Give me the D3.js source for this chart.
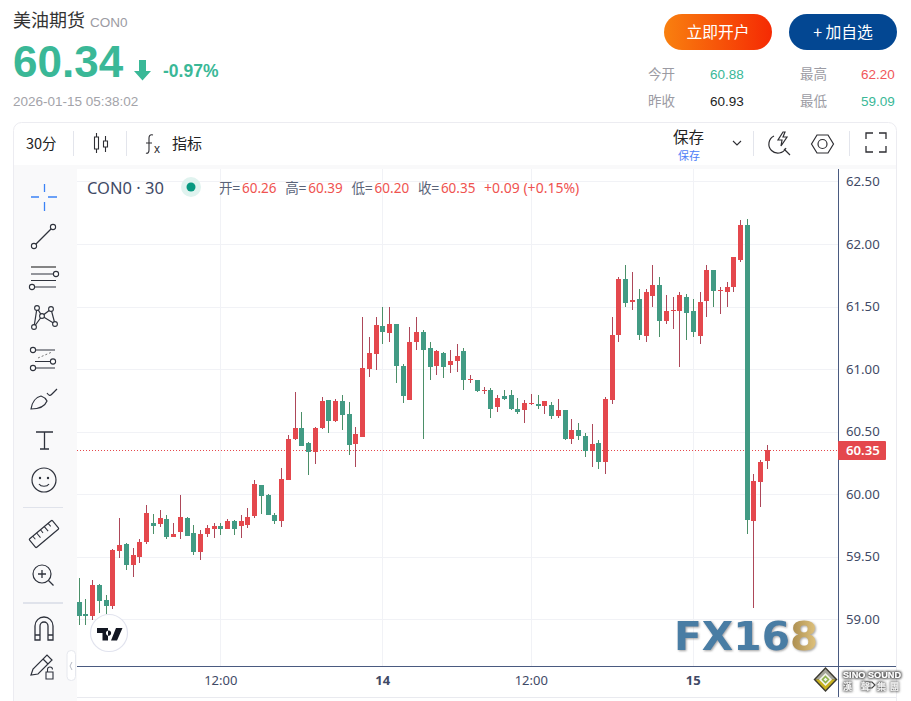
<!DOCTYPE html>
<html><head><meta charset="utf-8">
<script src="https://cdn.jsdelivr.net/npm/d3@7/dist/d3.min.js"></script>
<style>html,body{margin:0;padding:0;background:#fff;overflow:hidden}svg{display:block}text{font-family:"Noto Sans","Noto Sans CJK SC",sans-serif}</style>
</head><body><svg id="c" width="911" height="701"></svg>
<script>
// open, high, low, close of each 30-minute candle
const opens=[59.14,59.04,59.02,59.27,59.15,59.10,59.54,59.60,59.43,59.50,59.62,59.77,59.76,59.80,59.66,59.70,59.81,59.69,59.54,59.68,59.72,59.74,59.72,59.78,59.74,59.76,59.82,60.07,59.99,59.83,59.78,60.11,60.44,60.53,60.41,60.34,60.52,60.75,60.58,60.74,60.64,60.40,60.46,61.00,61.12,61.34,61.29,61.36,61.02,60.76,61.22,61.30,61.17,61.02,61.13,61.03,61.06,61.14,60.91,60.91,60.82,60.83,60.70,60.78,60.79,60.68,60.67,60.72,60.72,60.70,60.71,60.62,60.67,60.44,60.51,60.46,60.34,60.41,60.26,60.75,61.27,61.72,61.53,61.56,61.27,61.58,61.67,61.38,61.46,61.46,61.58,61.46,61.27,61.54,61.79,61.62,61.62,61.66,61.87,62.15,59.78,60.10,60.26];
const highs=[59.33,59.16,59.31,59.28,59.19,59.56,59.81,59.61,59.57,59.64,59.91,59.84,59.87,59.83,59.77,59.99,59.82,59.75,59.71,59.75,59.77,59.77,59.80,59.79,59.83,59.89,60.11,60.07,60.00,59.85,60.21,60.47,60.82,60.66,60.42,60.54,60.78,60.75,60.76,60.79,60.74,60.54,61.42,61.26,61.42,61.50,61.50,61.36,61.04,61.34,61.42,61.31,61.22,61.15,61.14,61.15,61.20,61.17,60.95,60.91,60.86,60.85,60.79,60.83,60.83,60.77,60.75,60.80,60.79,60.74,60.74,60.76,60.67,60.60,60.57,60.49,60.56,60.43,60.78,61.42,61.74,61.83,61.78,61.64,61.64,61.83,61.74,61.59,61.58,61.62,61.60,61.56,61.62,61.83,61.79,61.66,61.70,61.90,62.19,62.20,60.16,60.27,60.39];
const lows=[58.95,58.95,58.99,59.05,59.04,59.08,59.49,59.39,59.34,59.45,59.60,59.68,59.74,59.64,59.66,59.64,59.67,59.51,59.47,59.66,59.65,59.67,59.72,59.67,59.65,59.73,59.81,59.84,59.83,59.76,59.74,60.11,60.43,60.39,60.15,60.24,60.52,60.49,60.58,60.51,60.31,60.22,60.46,60.94,60.99,61.20,61.22,60.89,60.73,60.76,61.15,60.44,60.91,60.95,60.93,60.97,60.98,60.83,60.89,60.82,60.80,60.61,60.66,60.75,60.67,60.64,60.57,60.71,60.68,60.64,60.60,60.61,60.43,60.40,60.43,60.30,60.22,60.20,60.16,60.72,61.22,61.50,61.47,61.23,61.22,61.50,61.26,61.36,61.32,61.02,61.23,61.26,61.20,61.42,61.50,61.44,61.50,61.62,61.86,59.68,59.09,59.90,60.20];
const closes=[59.03,59.02,59.27,59.14,59.10,59.55,59.59,59.43,59.51,59.62,59.85,59.75,59.81,59.66,59.68,59.82,59.67,59.54,59.68,59.73,59.74,59.72,59.78,59.72,59.78,59.82,60.08,59.98,59.83,59.78,60.12,60.44,60.53,60.39,60.34,60.53,60.74,60.58,60.74,60.63,60.39,60.48,61.01,61.13,61.35,61.29,61.36,61.02,60.78,61.22,61.30,61.16,61.02,61.14,61.02,61.06,61.10,60.91,60.92,60.82,60.83,60.68,60.77,60.76,60.68,60.66,60.73,60.73,60.70,60.74,60.62,60.67,60.44,60.51,60.46,60.34,60.40,60.26,60.76,61.27,61.72,61.53,61.55,61.27,61.62,61.67,61.38,61.46,61.47,61.59,61.45,61.29,61.54,61.79,61.62,61.63,61.66,61.90,62.15,59.79,60.10,60.26,60.35];
const priceTicks=[59,59.5,60,60.5,61,61.5,62,62.5];
const timeTickIndex=[21,45,67,91];
const timeTickLabels=["12:00","14","12:00","15"];
const lastPrice=60.35;
const legendParts=[["开=","l"],["60.26","v"],["高=","l"],["60.39","v"],["低=","l"],["60.20","v"],["收=","l"],["60.35","v"]];

const svg=d3.select("#c");
const defs=svg.append("defs");
const g1=defs.append("linearGradient").attr("id","btn");
g1.append("stop").attr("offset","0").attr("stop-color","#f9800f");
g1.append("stop").attr("offset","1").attr("stop-color","#f52a03");
const g2=defs.append("linearGradient").attr("id","gold").attr("x1",0).attr("x2",1).attr("y1",0).attr("y2",0);
g2.append("stop").attr("offset","0").attr("stop-color","#a88a4c");
g2.append("stop").attr("offset","1").attr("stop-color","#e3c680");
defs.append("filter").attr("id","sh").attr("x","-10%").attr("y","-20%").attr("width","120%").attr("height","150%")
  .append("feDropShadow").attr("dx",1).attr("dy",1).attr("stdDeviation",0.8).attr("flood-color","#777").attr("flood-opacity",0.7);
const hf=defs.append("filter").attr("id","halo").attr("x","-10%").attr("y","-30%").attr("width","120%").attr("height","160%");
hf.append("feMorphology").attr("in","SourceAlpha").attr("operator","dilate").attr("radius",0.7).attr("result","d");
hf.append("feGaussianBlur").attr("in","d").attr("stdDeviation",0.9).attr("result","b");
hf.append("feFlood").attr("flood-color","#555").attr("result","f");
hf.append("feComposite").attr("in","f").attr("in2","b").attr("operator","in").attr("result","s");
const hm=hf.append("feMerge");hm.append("feMergeNode").attr("in","s");hm.append("feMergeNode").attr("in","SourceGraphic");

function T(x,y,s,size,fill,opt={}){const t=svg.append("text").attr("x",x).attr("y",y).attr("font-size",size).attr("fill",fill).text(s);
 if(opt.anchor)t.attr("text-anchor",opt.anchor);if(opt.weight)t.attr("font-weight",opt.weight);if(opt.family)t.style("font-family",opt.family);if(opt.len)t.attr("textLength",opt.len).attr("lengthAdjust","spacingAndGlyphs");return t;}
const CJK='"Noto Sans CJK SC",sans-serif', LIB='"Liberation Sans",sans-serif';
const TEAL="#3ab897",RED="#f0494c",GREY="#9b9ba3";

// header
T(13,27,"美油期货",18,"#333",{family:CJK});
T(90,27,"CON0",13.5,GREY,{family:LIB});
T(13,77,"60.34",44,TEAL,{weight:700,family:LIB});
svg.append("path").attr("d","M139 60h7v11h5l-8.500 9.500L134 71h5z").attr("fill",TEAL);
T(163,77,"-0.97%",17.5,TEAL,{weight:700,family:LIB});
T(13,106,"2026-01-15 05:38:02",13.5,"#a3a3a9",{family:LIB});
svg.append("rect").attr("x",664).attr("y",14).attr("width",108).attr("height",36).attr("rx",18).attr("fill","url(#btn)");
svg.append("rect").attr("x",789).attr("y",14).attr("width",108).attr("height",36).attr("rx",18).attr("fill","#034792");
T(718,37.500,"立即开户",15.800,"#fff",{anchor:"middle",family:CJK});
T(843,37.500,"+ 加自选",15.800,"#fff",{anchor:"middle",family:CJK});
[["今开",648,79],["最高",800,79],["昨收",648,106],["最低",800,106]].forEach(d=>T(d[1],d[2],d[0],13.5,GREY,{family:CJK}));
[["60.88",710,79,TEAL],["62.20",861,79,"#f0575a"],["60.93",710,106,"#222"],["59.09",861,106,TEAL]].forEach(d=>T(d[1],d[2],d[0],13.5,d[3],{family:LIB}));

// card (runs past the bottom of the window)
svg.append("rect").attr("x",13.5).attr("y",122.5).attr("width",883).attr("height",600).attr("rx",8).attr("fill","#fff").attr("stroke","#ececf1");
svg.append("rect").attr("x",14).attr("y",165).attr("width",882).attr("height",4).attr("fill","#f9f9fa");
svg.append("path").attr("d","M14 165H77V701H14z").attr("fill","#f9f9fa");
svg.append("line").attr("x1",77).attr("x2",896).attr("y1",697.5).attr("y2",697.5).attr("stroke","#e9eaef");

// toolbar
const ic=(d,w=1.1,col="#2e2e33")=>svg.append("path").attr("d",d).attr("fill","none").attr("stroke",col).attr("stroke-width",w);
const sep=(x,y1,y2)=>svg.append("line").attr("x1",x+.5).attr("x2",x+.5).attr("y1",y1).attr("y2",y2).attr("stroke","#e3e5ec");
T(26,149,"30分",14.5,"#222",{family:CJK});
sep(73,131,156);sep(126,131,156);sep(753,131,156);sep(849,131,156);
ic("M96.500 133v4M96.500 149v4M94.500 137h4v12h-4zM105.500 136v5M105.500 147v5M103.500 141h4v6h-4z");
ic("M153 135c-3-1-4 1-4 3v12c0 2-1 4-3 3M146 143h6");
T(154,152.500,"x",12,"#2e2e33",{family:LIB});
T(172,149,"指标",15,"#222",{family:CJK});
T(673,143,"保存",15.5,"#222",{family:CJK});
T(678,160,"保存",11,"#4e7ef7",{family:CJK});
ic("M733 141l4 4 4-4",1.1);
ic("M774 136a9 9 0 1 0 12 12M784 149l6 6",1.2);
ic("M783 132l-5 8h4l-1 6 6-9h-4l2-5z",1.2);
ic("M811.500 144l5.500-9h11l5.500 9-5.500 9h-11z",1.2);
svg.append("circle").attr("cx",822.5).attr("cy",144).attr("r",4.5).attr("fill","none").attr("stroke","#2e2e33").attr("stroke-width",1.2);
ic("M866 139v-6h7M879 133h7v6M886 146v6h-7M873 152h-7v-6",1.3);

// chart
const pane={l:77,r:838,t:169,b:667};
const y=d3.scaleLinear().domain([59,62]).range([619,244]);
const x=d3.scaleLinear().domain([0,102]).range([78.5,767]);
const gridG=svg.append("g").attr("stroke","#f1f2f6").attr("shape-rendering","crispEdges");
gridG.selectAll(".h").data(priceTicks).join("line").attr("x1",pane.l).attr("x2",pane.r).attr("y1",d=>Math.round(y(d))+.5).attr("y2",d=>Math.round(y(d))+.5);
gridG.selectAll(".v").data(timeTickIndex).join("line").attr("x1",d=>Math.round(x(d))+.5).attr("x2",d=>Math.round(x(d))+.5).attr("y1",pane.t).attr("y2",pane.b);

// FX168 watermark
const fx=svg.append("g").attr("filter","url(#sh)");
fx.append("text").attr("x",674).attr("y",649.500).attr("font-size",38.500).attr("font-weight",700).attr("fill","#4a7da4").attr("textLength",116).attr("lengthAdjust","spacingAndGlyphs").style("font-family",'"DejaVu Sans",sans-serif').text("FX16");
fx.append("text").attr("x",790).attr("y",649.500).attr("font-size",38.500).attr("font-weight",700).attr("fill","url(#gold)").attr("textLength",28).attr("lengthAdjust","spacingAndGlyphs").style("font-family",'"DejaVu Sans",sans-serif').text("8");

// price line
svg.append("line").attr("x1",pane.l).attr("x2",pane.r).attr("y1",Math.round(y(lastPrice))+.5).attr("y2",Math.round(y(lastPrice))+.5).attr("stroke","#e5484d").attr("stroke-dasharray","1 2");

// candles
const idx=d3.range(opens.length);
const up=i=>closes[i]>=opens[i];
const cG=svg.append("g").attr("shape-rendering","crispEdges");
cG.selectAll(".w").data(idx).join("line").attr("class","w")
 .attr("x1",i=>Math.round(x(i))+.5).attr("x2",i=>Math.round(x(i))+.5)
 .attr("y1",i=>y(highs[i])).attr("y2",i=>y(lows[i])).attr("stroke",i=>up(i)?"#ad4759":"#4b8f68");
cG.selectAll(".b").data(idx).join("rect").attr("class","b")
 .attr("x",i=>Math.round(x(i))-2).attr("width",5)
 .attr("y",i=>Math.round(y(Math.max(opens[i],closes[i]))))
 .attr("height",i=>Math.max(1,Math.round(Math.abs(y(opens[i])-y(closes[i])))))
 .attr("fill",i=>up(i)?"#e4484d":"#429b84");

// axes
svg.append("g").attr("transform",`translate(${pane.r},0)`).call(d3.axisRight(y).tickValues(priceTicks).tickFormat(d3.format(".2f")).tickSize(0).tickPadding(8))
 .call(g=>g.select(".domain").remove()).selectAll("text").attr("font-size",13.2).attr("fill","#3f4a66").style("font-family","Noto Sans");
svg.append("g").attr("transform",`translate(0,${pane.b})`).call(d3.axisBottom(x).tickValues(timeTickIndex).tickFormat(d=>timeTickLabels[timeTickIndex.indexOf(d)]).tickSize(0).tickPadding(9))
 .call(g=>g.select(".domain").remove()).selectAll("text").attr("font-size",13).attr("fill","#3f4a66").attr("font-weight",(d,i)=>timeTickLabels[i].length<3?700:400).style("font-family","Noto Sans");
svg.append("line").attr("x1",pane.l).attr("x2",896).attr("y1",666.5).attr("y2",666.5).attr("stroke","#4a5a80");
svg.append("line").attr("x1",838.5).attr("x2",838.5).attr("y1",169).attr("y2",697).attr("stroke","#4a5a80");
svg.append("rect").attr("x",838).attr("y",441).attr("width",48).attr("height",19).attr("rx",1).attr("fill","#e4484d");
T(846,455,d3.format(".2f")(lastPrice),13.2,"#fff",{weight:600});

// legend
T(87,193.500,"CON0 · 30",16.5,"#3f4a66");
svg.append("circle").attr("cx",191).attr("cy",187).attr("r",10).attr("fill","#e0f3ef");
svg.append("circle").attr("cx",191).attr("cy",187).attr("r",4.5).attr("fill","#089981");
let lx=219;
legendParts.forEach(p=>{
 T(lx,193,p[0],13.5,p[1]=="l"?"#5a6378":"#ef5350",{family:p[1]=="l"?CJK:"Noto Sans"});
 lx+=p[1]=="l"?23:43.3;
});
T(484,193,"+0.09 (+0.15%)",14,"#ef5350");

// left tools
const B="#2e323c";
const dot=(cx,cy,r=2.6)=>svg.append("circle").attr("cx",cx).attr("cy",cy).attr("r",r).attr("fill","#fff").attr("stroke",B).attr("stroke-width",1.1);
ic("M44.500 184v8M44.500 202v9M31 197h8M48 197h9",1.3,"#3b82f6");
ic("M34 246L53 227",1.2,B);dot(34,246);dot(53,227);
ic("M31 267h25",1.6,"#666");ic("M31 274h24M31 280.500h25M34 287h22",1.2,B);dot(56,274);dot(32,287);
ic("M34 327L37 308L42 316L51 309L55 324L42 316L34 327M37 308L42 316",1.2,B);
[[34,327],[37,308],[42,316],[51,309],[55,324]].forEach(p=>dot(p[0],p[1],2.4));
ic("M35 350h20M35 361.500h17M35 368h20",1.2,B);ic("M38 358l14-6",1,"#777").attr("stroke-dasharray","2 2");
dot(33,350);dot(53,361.5);dot(33,368);
ic("M31 409c1-7 5-12 10-13 3 1 5 3 6 5-2 5-6 8-16 8z",1.2,B);ic("M47 393c2 3 3 3 5 1l5-5",1.2,B);
ic("M36 432h17M44.500 432v17M40 449h9",1.3,B);
svg.append("circle").attr("cx",44).attr("cy",480).attr("r",12).attr("fill","none").attr("stroke",B).attr("stroke-width",1.2);
svg.append("circle").attr("cx",40).attr("cy",478).attr("r",1.2).attr("fill",B);svg.append("circle").attr("cx",48).attr("cy",478).attr("r",1.2).attr("fill",B);
ic("M39 484c2 3 8 3 10 0",1.2,B);
svg.append("line").attr("x1",23).attr("x2",63).attr("y1",507.5).attr("y2",507.5).attr("stroke","#e0e3eb");
svg.append("g").attr("transform","translate(44,534) rotate(-40)").call(g=>{g.append("rect").attr("x",-15).attr("y",-5.500).attr("width",30).attr("height",11).attr("rx",1).attr("fill","none").attr("stroke",B).attr("stroke-width",1.2);
 g.append("path").attr("d","M-10-5.500v4M-5-5.500v6M0-5.500v4M5-5.500v6M10-5.500v4").attr("fill","none").attr("stroke",B);});
svg.append("circle").attr("cx",42).attr("cy",574).attr("r",9).attr("fill","none").attr("stroke",B).attr("stroke-width",1.2);
ic("M38 574h8M42 570v8M48.500 580.500l5 5",1.3,B);
svg.append("rect").attr("x",23).attr("y",602).attr("width",40).attr("height",2).attr("fill","#e0e3eb");
ic("M35 640v-14a9 9 0 0 1 18 0v14h-5v-14a4 4 0 0 0-8 0v14zM35 635h5M48 635h5",1.3,B);
ic("M31 675l2-6 14-14 5 5-14 14zM43 659l5 5",1.2,B);
ic("M46 672h7v7h-7zM47.500 672v-2.500a2.500 2.500 0 0 1 5 0",1.1,B);
svg.append("rect").attr("x",67).attr("y",650.5).attr("width",8.500).attr("height",30).attr("rx",4).attr("fill","#fff").attr("stroke","#e6e8ee");
ic("M72 662l-2 4 2 4",1,"#b7bbc6");

// TradingView badge
svg.append("circle").attr("cx",109).attr("cy",633).attr("r",18.500).attr("fill","#fff").attr("stroke","#e1e3ee").attr("stroke-width",1.2);
svg.append("path").attr("d","M97 628h11v12.500h-5.500v-7.500H97zM108.500 630.500a2.600 2.600 0 1 0 .1 0zM116 628h6.500l-5.500 12.500h-6z").attr("fill","#131722");

// sino sound logo
svg.append("path").attr("d","M825.500 667l12 12.500-12 12.500-12-12.500z").attr("fill","#3c3a30");
svg.append("path").attr("d","M825.500 669l10 10.500h-20z").attr("fill","#a5a59a");
svg.append("path").attr("d","M825.500 690l10-10.500h-20z").attr("fill","#c9b21e");
svg.append("path").attr("d","M825.500 673l6.500 6.500-6.500 6.500-6.500-6.500z").attr("fill","#f4f4ea");
svg.append("path").attr("d","M825.500 676.500l3 3-3 3-3-3z").attr("fill","none").attr("stroke","#8db24a").attr("stroke-width",1.6);
ic("M863 685l3-3h6l3 3-3 3h-6z",1.2,"#444");
const sn=svg.append("g").attr("filter","url(#halo)");
sn.append("text").attr("x",843).attr("y",678).attr("font-size",9).attr("font-weight",700).attr("fill","#fff").attr("textLength",58).attr("lengthAdjust","spacingAndGlyphs").style("font-family",LIB).text("SINO SOUND");
[["漢",843],["聲",861],["集",877],["團",890]].forEach(d=>sn.append("text").attr("x",d[1]).attr("y",690).attr("font-size",9).attr("fill","#fff").style("font-family",'"Noto Sans CJK TC",sans-serif').text(d[0]));
</script></body></html>
